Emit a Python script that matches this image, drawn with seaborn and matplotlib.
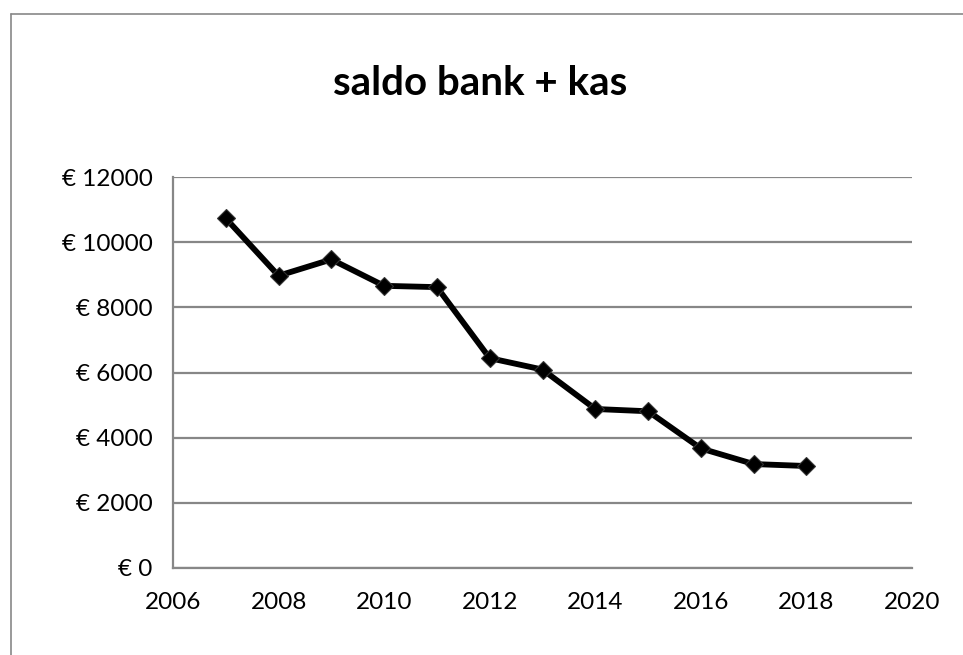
import matplotlib
matplotlib.use('Agg')
import matplotlib.pyplot as plt
from matplotlib.lines import Line2D
from matplotlib.ticker import FuncFormatter, MultipleLocator
import seaborn as sns
import pandas as pd

# saldo per jaar
years = [2007, 2008, 2009, 2010, 2011, 2012, 2013, 2014, 2015, 2016, 2017, 2018]
saldo = [10730, 8970, 9470, 8660, 8620, 6440, 6090, 4880, 4810, 3670, 3190, 3130]
title = 'saldo bank + kas'

df = pd.DataFrame({'jaar': years, 'saldo': saldo})

sns.set_style('white')
plt.rcParams['font.family'] = ['Lato', 'DejaVu Sans']
plt.rcParams['text.color'] = 'black'

GRAY = '#878787'

fig = plt.figure(figsize=(9.63, 6.55), dpi=100)
ax = fig.add_axes([173 / 963, 1 - 568 / 655, (912 - 173) / 963, (568 - 177) / 655])

sns.lineplot(data=df, x='jaar', y='saldo', ax=ax, color='black', linewidth=4.2,
             marker='D', markersize=9, markeredgecolor='#333333', markeredgewidth=0.8)

ax.set_xlim(2006, 2020)
ax.set_ylim(0, 12000)
ax.xaxis.set_major_locator(MultipleLocator(2))
ax.yaxis.set_major_locator(MultipleLocator(2000))
ax.yaxis.set_major_formatter(FuncFormatter(lambda v, p: f'€ {int(v)}'))
ax.set_xlabel('')
ax.set_ylabel('')

ax.grid(axis='y', color=GRAY, linewidth=1.6)
ax.set_axisbelow(True)
for side in ['top', 'right']:
    ax.spines[side].set_visible(False)
for side in ['left', 'bottom']:
    ax.spines[side].set_color(GRAY)
    ax.spines[side].set_linewidth(1.6)
ax.tick_params(axis='both', which='major', direction='out', length=8.5, width=1.6,
               color=GRAY, labelsize=17.5, labelcolor='black', pad=6)
ax.tick_params(axis='x', pad=9)

fig.text(480 / 963, 1 - 95 / 655, title, ha='center', va='baseline',
         fontsize=29, fontweight='bold', color='black')

# rand van het grafiekvak
fig.add_artist(Line2D([10.5 / 963, 10.5 / 963], [0, 1 - 14 / 655], transform=fig.transFigure,
                      color=GRAY, linewidth=1.2))
fig.add_artist(Line2D([10.5 / 963, 1], [1 - 14 / 655, 1 - 14 / 655], transform=fig.transFigure,
                      color=GRAY, linewidth=1.2))

fig.savefig('out.png', dpi=100)
plt.close(fig)
